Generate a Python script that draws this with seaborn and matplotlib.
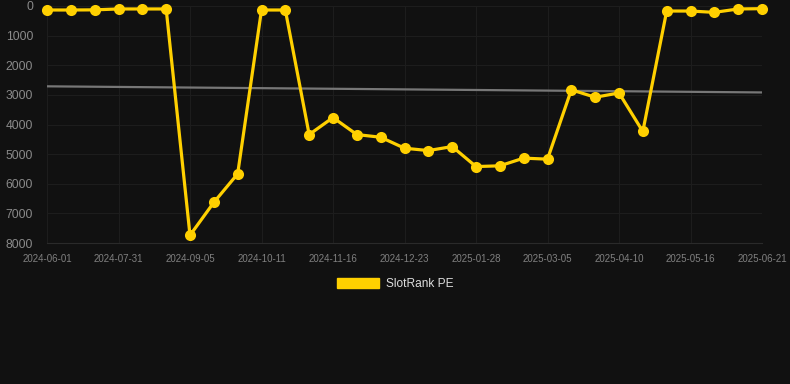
import numpy as np
import pandas as pd
import matplotlib
matplotlib.use("Agg")
import matplotlib.pyplot as plt
from matplotlib.patches import Patch
import seaborn as sns

# dates (category axis, every third one labelled)
DATES = ['2024-06-01', '2024-06-21', '2024-07-11', '2024-07-31', '2024-08-12', '2024-08-24',
         '2024-09-05', '2024-09-17', '2024-09-29', '2024-10-11', '2024-10-23', '2024-11-04',
         '2024-11-16', '2024-11-28', '2024-12-10', '2024-12-23', '2025-01-04', '2025-01-16',
         '2025-01-28', '2025-02-09', '2025-02-21', '2025-03-05', '2025-03-17', '2025-03-29',
         '2025-04-10', '2025-04-22', '2025-05-04', '2025-05-16', '2025-05-28', '2025-06-09',
         '2025-06-21']
RANKS = [135, 135, 130, 100, 100, 100, 7740, 6630, 5665, 135, 135, 4340, 3765, 4340, 4430,
         4800, 4880, 4745, 5420, 5395, 5135, 5170, 2830, 3080, 2935, 4235, 170, 170, 215, 100, 90]
SERIES_NAME = 'SlotRank PE'

BG = '#111111'
GOLD = '#FFD000'
GRID = '#1d1d1d'


def make_chart():
    sns.set_style('dark')
    plt.rcParams['font.family'] = ['Liberation Sans', 'DejaVu Sans']

    df = pd.DataFrame({'idx': np.arange(len(DATES)), 'date': DATES, 'rank': RANKS})

    fig = plt.figure(figsize=(7.9, 3.84), dpi=100, facecolor=BG)
    ax = fig.add_axes([47 / 790, 141 / 384, 715 / 790, 237 / 384])
    ax.set_facecolor(BG)

    # trend line (least squares over the index)
    coef = np.polyfit(df['idx'], df['rank'], 1)
    ax.plot(df['idx'], np.polyval(coef, df['idx']), color='#777777', lw=1.6, zorder=2)

    sns.lineplot(data=df, x='idx', y='rank', ax=ax, color=GOLD, lw=2.3,
                 marker='o', markersize=8, markeredgewidth=0, zorder=3, clip_on=False)

    ax.set_xlim(0, len(DATES) - 1)
    ax.set_ylim(8000, 0)
    ax.set_yticks(range(0, 8001, 1000))
    ax.set_xticks(df['idx'][::3])
    ax.set_xticklabels(df['date'][::3])
    ax.tick_params(axis='x', colors=GRID, labelcolor='#808080', labelsize=7, length=6, width=0.8, pad=2)
    ax.tick_params(axis='y', colors=GRID, labelcolor='#8a8a8a', labelsize=8.7, length=8, width=0.8, pad=2)
    ax.grid(True, color=GRID, lw=0.8)
    ax.set_xlabel('')
    ax.set_ylabel('')
    for s in ax.spines.values():
        s.set_visible(False)
    ax.spines['bottom'].set_visible(True)
    ax.spines['bottom'].set_color('#2a2a2a')
    ax.spines['bottom'].set_linewidth(0.8)

    handle = Patch(facecolor=GOLD, edgecolor=GOLD)
    fig.legend([handle], [SERIES_NAME], loc='center', bbox_to_anchor=(0.5, 1 - 284 / 384),
               frameon=False, fontsize=8.6, labelcolor='#dddddd',
               handlelength=3.5, handleheight=1.0, handletextpad=0.6)

    fig.savefig('out.png', dpi=100, facecolor=BG)


if __name__ == '__main__':
    make_chart()
